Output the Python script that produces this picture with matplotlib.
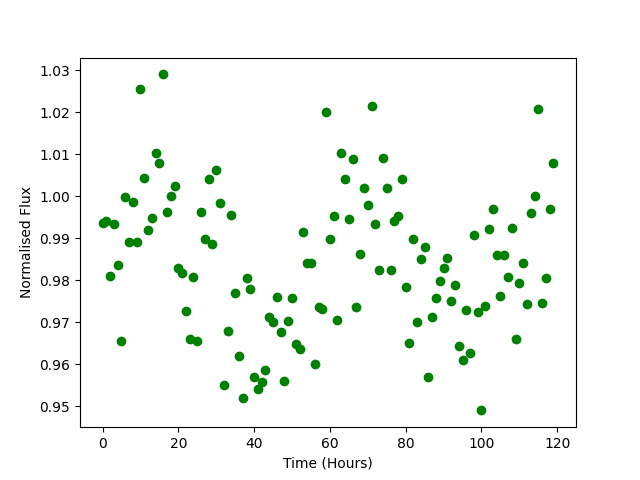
import numpy as np
import matplotlib
matplotlib.use('Agg')
import matplotlib.pyplot as plt

# time in hours, one sample per hour
time_hours = list(range(120))

# normalised flux
flux = [
	0.9935, 0.9940, 0.9810, 0.9933, 0.9835, 0.9655, 0.9998, 0.9890, 0.9985, 0.9890,
	1.0255, 1.0043, 0.9920, 0.9948, 1.0102, 1.0080, 1.0290, 0.9963, 1.0000, 1.0025,
	0.9830, 0.9818, 0.9727, 0.9660, 0.9807, 0.9655, 0.9963, 0.9898, 1.0040, 0.9885,
	1.0063, 0.9983, 0.9550, 0.9680, 0.9955, 0.9770, 0.9620, 0.9520, 0.9805, 0.9780,
	0.9570, 0.9540, 0.9558, 0.9587, 0.9713, 0.9700, 0.9760, 0.9677, 0.9560, 0.9703,
	0.9757, 0.9647, 0.9635, 0.9915, 0.9840, 0.9840, 0.9600, 0.9735, 0.9732, 1.0200,
	0.9897, 0.9953, 0.9705, 1.0102, 1.0040, 0.9945, 1.0088, 0.9737, 0.9862, 1.0020,
	0.9978, 1.0215, 0.9933, 0.9825, 1.0090, 1.0020, 0.9825, 0.9940, 0.9953, 1.0040,
	0.9783, 0.9650, 0.9898, 0.9700, 0.9850, 0.9880, 0.9570, 0.9713, 0.9758, 0.9798,
	0.9830, 0.9852, 0.9750, 0.9788, 0.9643, 0.9610, 0.9730, 0.9627, 0.9907, 0.9725,
	0.9490, 0.9738, 0.9923, 0.9970, 0.9860, 0.9762, 0.9860, 0.9808, 0.9925, 0.9660,
	0.9793, 0.9840, 0.9743, 0.9960, 1.0000, 1.0208, 0.9745, 0.9805, 0.9970, 1.0080,
]

fig = plt.figure(figsize=(6.4, 4.8), dpi=100)
plt.scatter(time_hours, flux, color='green')
plt.xlabel('Time (Hours)')
plt.ylabel('Normalised Flux')
plt.savefig('out.png')
plt.close()
